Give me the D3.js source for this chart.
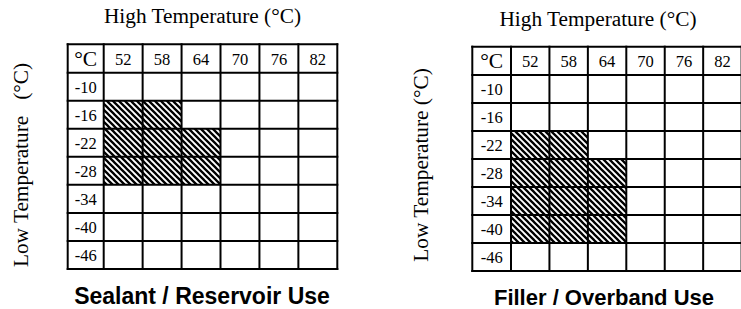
<!DOCTYPE html>
<html><head><meta charset="utf-8">
<script src="https://cdn.jsdelivr.net/npm/d3@7"></script>
<style>html,body{margin:0;padding:0;background:#fff;}svg{display:block;}</style>
</head><body>
<svg id="c" width="741" height="309"></svg>
<script>
const highTemps = ["52","58","64","70","76","82"];
const lowTemps = ["-10","-16","-22","-28","-34","-40","-46"];
const unitLabel = "°C";
const xTitle = "High Temperature (°C)";
const yTitleLeft = "Low Temperature   (°C)";
const yTitleRight = "Low Temperature (°C)";
const sealantTitle = "Sealant / Reservoir Use";
const fillerTitle = "Filler / Overband Use";
// shaded grade cells [low, high]
const sealantCells = [["-16","52"],["-16","58"],["-22","52"],["-22","58"],["-22","64"],["-28","52"],["-28","58"],["-28","64"]];
const fillerCells = [["-22","52"],["-22","58"],["-28","52"],["-28","58"],["-28","64"],["-34","52"],["-34","58"],["-34","64"],["-40","52"],["-40","58"],["-40","64"]];

const svg = d3.select("#c");
const defs = svg.append("defs");
const P = 6;
const pat = defs.append("pattern").attr("id","hatch").attr("patternUnits","userSpaceOnUse")
  .attr("width",P).attr("height",P);
pat.append("rect").attr("width",P).attr("height",P).attr("fill","#fff");
pat.append("path").attr("d",`M-1,-1L${P+1},${P+1}M-1,${P-1}L1,${P+1}M${P-1},-1L${P+1},1`)
  .attr("stroke","#000").attr("stroke-width",2.3);

const panels = [
  {x0:67.7, xh:103.7, x1:337.3, y0:44.3, yh:72.7, y1:269, cells:sealantCells, title:sealantTitle, tfs:23,
   titleX:202, titleY:303.5, xtX:202.5, xtY:22.5, yt:yTitleLeft, ytX:27.5, ytY:165},
  {x0:472.3, xh:511, x1:741.6, y0:46.7, yh:75, y1:271, cells:fillerCells, title:fillerTitle, tfs:22,
   titleX:604, titleY:305, xtX:598, xtY:25.5, yt:yTitleRight, ytX:427.5, ytY:165}
];

panels.forEach(p => {
  const g = svg.append("g");
  const x = d3.scaleBand().domain(highTemps).range([p.xh, p.x1]);
  const y = d3.scaleBand().domain(lowTemps).range([p.yh, p.y1]);
  // hatched cells
  g.selectAll("rect.cell").data(p.cells).join("rect").attr("class","cell")
    .attr("x", d => x(d[1])).attr("y", d => y(d[0]))
    .attr("width", x.bandwidth()).attr("height", y.bandwidth())
    .attr("fill","url(#hatch)");
  // grid lines
  const vx = [p.x0, p.xh].concat(highTemps.slice(1).map(v => x(v)), [p.x1]);
  const hy = [p.y0, p.yh].concat(lowTemps.slice(1).map(v => y(v)), [p.y1]);
  g.selectAll("line.v").data(vx).join("line").attr("class","v")
    .attr("x1", d => d).attr("x2", d => d).attr("y1", p.y0 - 1).attr("y2", p.y1 + 1)
    .attr("stroke","#000").attr("stroke-width",2);
  g.selectAll("line.h").data(hy).join("line").attr("class","h")
    .attr("y1", d => d).attr("y2", d => d).attr("x1", p.x0 - 1).attr("x2", p.x1 + 1)
    .attr("stroke","#000").attr("stroke-width",2);
  const serif = "'Liberation Serif','Times New Roman',serif";
  // header
  g.append("text").attr("x",(p.x0+p.xh)/2).attr("y",(p.y0+p.yh)/2+7.5).attr("text-anchor","middle")
    .attr("font-family",serif).attr("font-size",21.5).text(unitLabel);
  g.selectAll("text.col").data(highTemps).join("text").attr("class","col")
    .attr("x", d => x(d) + x.bandwidth()/2).attr("y",(p.y0+p.yh)/2+6.2)
    .attr("text-anchor","middle").attr("font-family",serif).attr("font-size",16.5).text(d => d);
  g.selectAll("text.row").data(lowTemps).join("text").attr("class","row")
    .attr("x",(p.x0+p.xh)/2).attr("y", d => y(d) + y.bandwidth()/2 + 6.2)
    .attr("text-anchor","middle").attr("font-family",serif).attr("font-size",16.5).text(d => d);
  // titles
  g.append("text").attr("x",p.xtX).attr("y",p.xtY).attr("text-anchor","middle")
    .attr("font-family",serif).attr("font-size",21.3).text(xTitle);
  g.append("text").attr("transform",`translate(${p.ytX},${p.ytY}) rotate(-90)`)
    .attr("text-anchor","middle").attr("font-family",serif).attr("font-size",21.3)
    .style("white-space","pre").text(p.yt);
  g.append("text").attr("x",p.titleX).attr("y",p.titleY).attr("text-anchor","middle")
    .attr("font-family","'Liberation Sans',Arial,Helvetica,sans-serif").attr("font-weight","bold")
    .attr("font-size",p.tfs).text(p.title);
});
</script>
</body></html>
